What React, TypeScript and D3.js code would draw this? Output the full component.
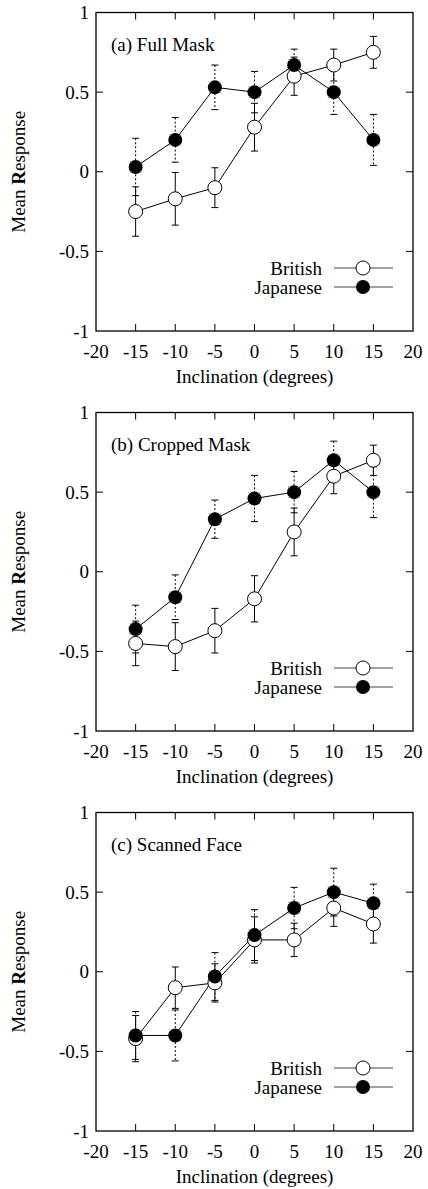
import React from "react";
import * as d3 from "d3";

// x positions (degrees of inclination)
const inclinations = [-15, -10, -5, 0, 5, 10, 15];
const xTicks = [-20, -15, -10, -5, 0, 5, 10, 15, 20];
const yTicks = [-1, -0.5, 0, 0.5, 1];

const panelTitles = ["(a) Full Mask", "(b) Cropped Mask", "(c) Scanned Face"];

// mean responses
const britishFull = [-0.25, -0.17, -0.1, 0.28, 0.6, 0.67, 0.75];
const britishFullErr = [0.155, 0.165, 0.125, 0.15, 0.12, 0.1, 0.1];
const japaneseFull = [0.03, 0.2, 0.53, 0.5, 0.67, 0.5, 0.2];
const japaneseFullErr = [0.18, 0.14, 0.14, 0.13, 0.1, 0.14, 0.16];

const britishCropped = [-0.45, -0.47, -0.37, -0.17, 0.25, 0.6, 0.7];
const britishCroppedErr = [0.14, 0.15, 0.14, 0.145, 0.15, 0.11, 0.095];
const japaneseCropped = [-0.36, -0.16, 0.33, 0.46, 0.5, 0.7, 0.5];
const japaneseCroppedErr = [0.15, 0.14, 0.12, 0.145, 0.13, 0.12, 0.16];

const britishScanned = [-0.42, -0.1, -0.07, 0.2, 0.2, 0.4, 0.3];
const britishScannedErr = [0.145, 0.13, 0.12, 0.145, 0.105, 0.115, 0.12];
const japaneseScanned = [-0.4, -0.4, -0.03, 0.23, 0.4, 0.5, 0.43];
const japaneseScannedErr = [0.15, 0.16, 0.15, 0.16, 0.13, 0.15, 0.12];

const panels = [
  { title: panelTitles[0], british: britishFull, britishErr: britishFullErr, japanese: japaneseFull, japaneseErr: japaneseFullErr },
  { title: panelTitles[1], british: britishCropped, britishErr: britishCroppedErr, japanese: japaneseCropped, japaneseErr: japaneseCroppedErr },
  { title: panelTitles[2], british: britishScanned, britishErr: britishScannedErr, japanese: japaneseScanned, japaneseErr: japaneseScannedErr },
];

const FONT = "'Liberation Serif', 'DejaVu Serif', serif";
const FS = 19;
const left = 96;
const right = 413;
const panelH = 318.5;
const tickLen = 7;
const capW = 3.5;
const r = 7;

const Panel = ({ p, top }: { p: (typeof panels)[number]; top: number }) => {
  const bottom = top + panelH;
  const x = d3.scaleLinear().domain([-20, 20]).range([left, right]);
  const y = d3.scaleLinear().domain([-1, 1]).range([bottom, top]);
  const line = d3
    .line<number>()
    .x((_, i) => x(inclinations[i]))
    .y((d) => y(d));

  const errBars = (vals: number[], errs: number[], dashed: boolean) =>
    vals.map((v, i) => {
      const cx = x(inclinations[i]);
      const y1 = y(v + errs[i]);
      const y2 = y(v - errs[i]);
      return (
        <g key={i} stroke="#000" strokeWidth={1}>
          <line x1={cx} x2={cx} y1={y1} y2={y2} strokeDasharray={dashed ? "2,2" : undefined} />
          <line x1={cx - capW} x2={cx + capW} y1={y1} y2={y1} />
          <line x1={cx - capW} x2={cx + capW} y1={y2} y2={y2} />
        </g>
      );
    });

  const legendX = 363;
  const rowB = bottom - 63;
  const rowJ = bottom - 44;

  return (
    <g>
      {/* error bars below markers */}
      {errBars(p.british, p.britishErr, false)}
      {errBars(p.japanese, p.japaneseErr, true)}
      <path d={line(p.british) ?? ""} fill="none" stroke="#000" strokeWidth={1} />
      <path d={line(p.japanese) ?? ""} fill="none" stroke="#000" strokeWidth={1} />
      {p.british.map((v, i) => (
        <circle key={"b" + i} cx={x(inclinations[i])} cy={y(v)} r={r} fill="#fff" stroke="#000" strokeWidth={1} />
      ))}
      {p.japanese.map((v, i) => {
        const cx = x(inclinations[i]);
        const cy = y(v);
        return (
          <g key={"j" + i}>
            <circle cx={cx} cy={cy} r={r} fill="#000" />
            {[45, 135, 225, 315].map((a) => {
              const rad = (a * Math.PI) / 180;
              return (
                <line
                  key={a}
                  x1={cx + Math.cos(rad) * (r - 1)}
                  y1={cy + Math.sin(rad) * (r - 1)}
                  x2={cx + Math.cos(rad) * (r + 1.5)}
                  y2={cy + Math.sin(rad) * (r + 1.5)}
                  stroke="#888"
                  strokeWidth={0.8}
                />
              );
            })}
          </g>
        );
      })}

      {/* frame */}
      <rect x={left} y={top} width={right - left} height={panelH} fill="none" stroke="#000" strokeWidth={1.3} />
      {xTicks.slice(1, -1).map((t) => (
        <g key={"xt" + t} stroke="#000" strokeWidth={1}>
          <line x1={x(t)} x2={x(t)} y1={bottom} y2={bottom - tickLen} />
          <line x1={x(t)} x2={x(t)} y1={top} y2={top + tickLen} />
        </g>
      ))}
      {yTicks.slice(1, -1).map((t) => (
        <g key={"yt" + t} stroke="#000" strokeWidth={1}>
          <line x1={left} x2={left + tickLen} y1={y(t)} y2={y(t)} />
          <line x1={right} x2={right - tickLen} y1={y(t)} y2={y(t)} />
        </g>
      ))}

      {/* tick labels */}
      {xTicks.map((t) => (
        <text key={"xl" + t} x={x(t)} y={bottom + 26.5} textAnchor="middle" fontSize={FS}>
          {t}
        </text>
      ))}
      {yTicks.map((t) => (
        <text key={"yl" + t} x={89} y={y(t) + 6.5} textAnchor="end" fontSize={FS}>
          {t}
        </text>
      ))}

      {/* axis titles */}
      <text x={(left + right) / 2} y={bottom + 52} textAnchor="middle" fontSize={FS}>
        Inclination (degrees)
      </text>
      <text transform={`translate(25,${(top + bottom) / 2}) rotate(-90)`} textAnchor="middle" fontSize={FS}>
        Mean <tspan fontWeight="bold">R</tspan>esponse
      </text>

      <text x={111} y={top + 38.5} fontSize={FS}>
        {p.title}
      </text>

      {/* legend */}
      <text x={322} y={rowB + 6.5} textAnchor="end" fontSize={FS}>
        British
      </text>
      <line x1={334} x2={393} y1={rowB} y2={rowB} stroke="#444" strokeWidth={1} />
      <circle cx={legendX} cy={rowB} r={r} fill="#fff" stroke="#000" strokeWidth={1} />
      <text x={322} y={rowJ + 6.5} textAnchor="end" fontSize={FS}>
        Japanese
      </text>
      <line x1={334} x2={393} y1={rowJ} y2={rowJ} stroke="#444" strokeWidth={1} />
      <circle cx={legendX} cy={rowJ} r={r} fill="#000" />
    </g>
  );
};

const App = () => {
  const panelTops = [12.5, 412.5, 812.5];
  return (
    <svg
      width={428}
      height={1189}
      style={{ position: "absolute", left: 0, top: 0, background: "#fff", fontFamily: FONT }}
    >
      <rect width={428} height={1189} fill="#fff" />
      {panels.map((p, i) => (
        <Panel key={p.title} p={p} top={panelTops[i]} />
      ))}
    </svg>
  );
};

export default App;
